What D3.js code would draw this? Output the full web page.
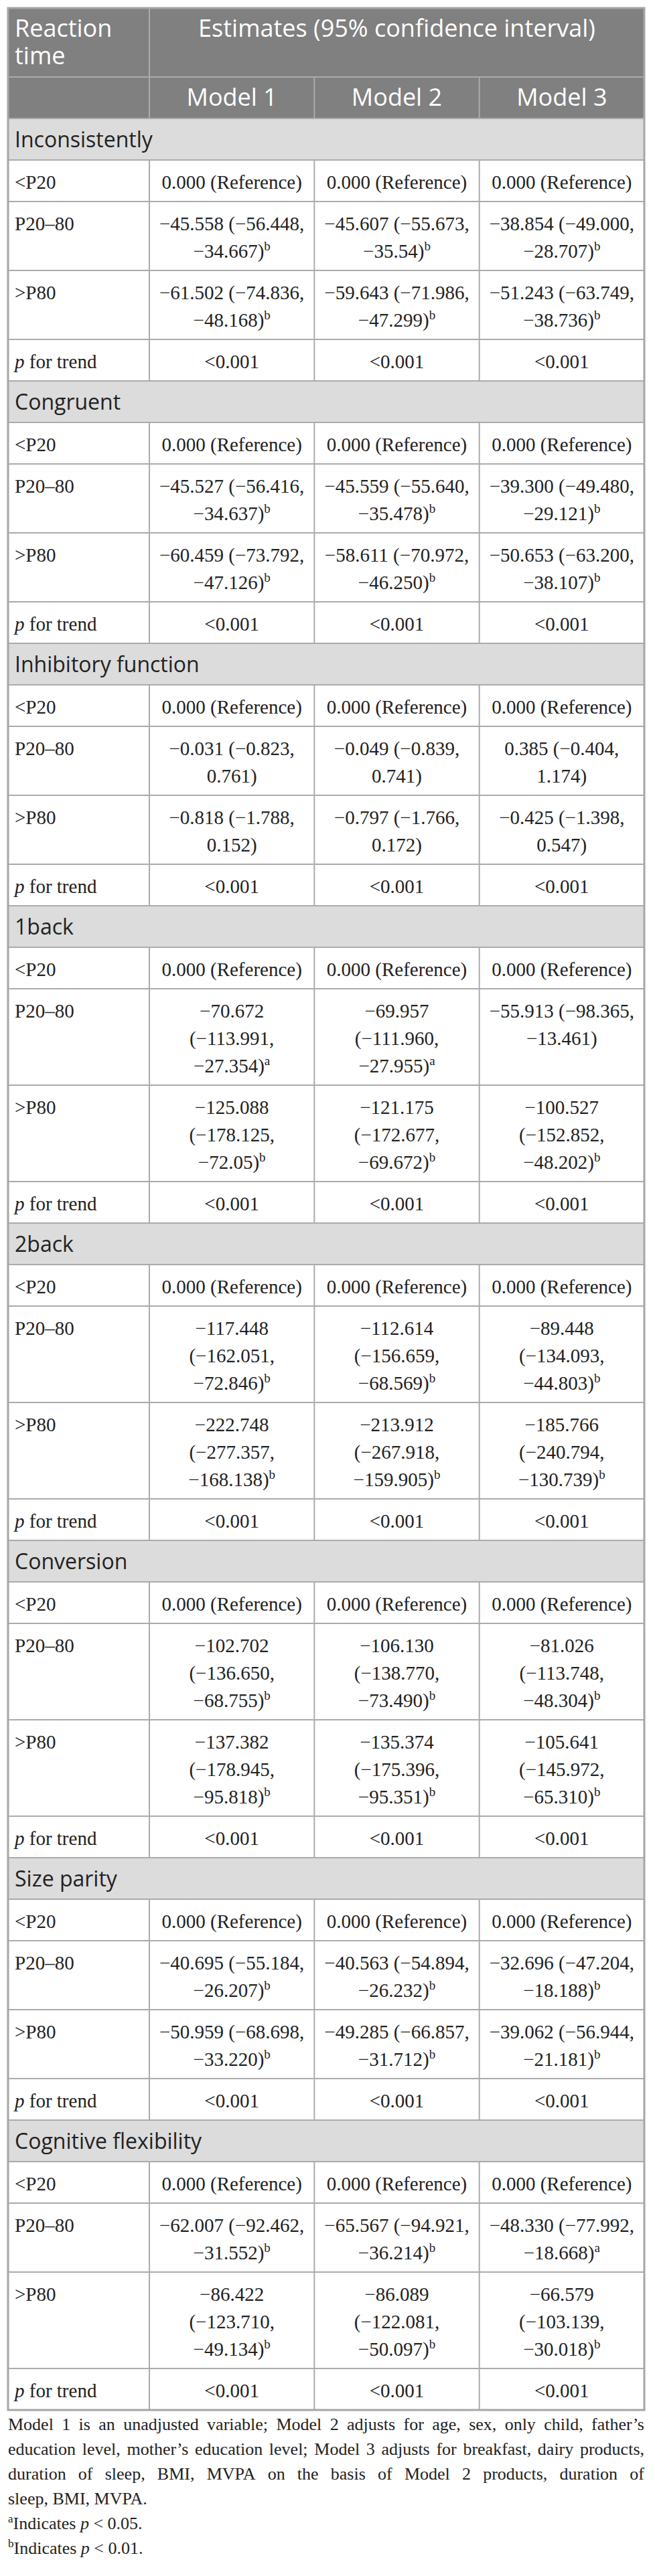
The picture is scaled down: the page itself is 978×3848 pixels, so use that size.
<!DOCTYPE html>
<html>
<head>
<meta charset="utf-8">
<script src="https://cdn.jsdelivr.net/npm/d3@7"></script>
<style>
  body { margin: 0; background: #fff; }
</style>
</head>
<body>
<div id="table"></div>
<script>
// table content
var groups = ["Inconsistently", "Congruent", "Inhibitory function", "1back", "2back",
  "Conversion", "Size parity", "Cognitive flexibility"];
var levels = ["<P20", "P20–80", ">P80", "p for trend"];
var models = ["Model 1", "Model 2", "Model 3"];
var refText = "0.000 (Reference)";
var trendText = "<0.001";

// P20–80 estimates (95% CI), one row per group, one entry per model
var mid = [
  ["−45.558 (−56.448, −34.667)", "−45.607 (−55.673, −35.54)", "−38.854 (−49.000, −28.707)"],
  ["−45.527 (−56.416, −34.637)", "−45.559 (−55.640, −35.478)", "−39.300 (−49.480, −29.121)"],
  ["−0.031 (−0.823, 0.761)", "−0.049 (−0.839, 0.741)", "0.385 (−0.404, 1.174)"],
  ["−70.672 (−113.991, −27.354)", "−69.957 (−111.960, −27.955)", "−55.913 (−98.365, −13.461)"],
  ["−117.448 (−162.051, −72.846)", "−112.614 (−156.659, −68.569)", "−89.448 (−134.093, −44.803)"],
  ["−102.702 (−136.650, −68.755)", "−106.130 (−138.770, −73.490)", "−81.026 (−113.748, −48.304)"],
  ["−40.695 (−55.184, −26.207)", "−40.563 (−54.894, −26.232)", "−32.696 (−47.204, −18.188)"],
  ["−62.007 (−92.462, −31.552)", "−65.567 (−94.921, −36.214)", "−48.330 (−77.992, −18.668)"]
];
var midSig = [
  ["b", "b", "b"], ["b", "b", "b"], ["", "", ""], ["a", "a", ""],
  ["b", "b", "b"], ["b", "b", "b"], ["b", "b", "b"], ["b", "b", "a"]
];

// >P80 estimates (95% CI)
var high = [
  ["−61.502 (−74.836, −48.168)", "−59.643 (−71.986, −47.299)", "−51.243 (−63.749, −38.736)"],
  ["−60.459 (−73.792, −47.126)", "−58.611 (−70.972, −46.250)", "−50.653 (−63.200, −38.107)"],
  ["−0.818 (−1.788, 0.152)", "−0.797 (−1.766, 0.172)", "−0.425 (−1.398, 0.547)"],
  ["−125.088 (−178.125, −72.05)", "−121.175 (−172.677, −69.672)", "−100.527 (−152.852, −48.202)"],
  ["−222.748 (−277.357, −168.138)", "−213.912 (−267.918, −159.905)", "−185.766 (−240.794, −130.739)"],
  ["−137.382 (−178.945, −95.818)", "−135.374 (−175.396, −95.351)", "−105.641 (−145.972, −65.310)"],
  ["−50.959 (−68.698, −33.220)", "−49.285 (−66.857, −31.712)", "−39.062 (−56.944, −21.181)"],
  ["−86.422 (−123.710, −49.134)", "−86.089 (−122.081, −50.097)", "−66.579 (−103.139, −30.018)"]
];
var highSig = [
  ["b", "b", "b"], ["b", "b", "b"], ["", "", ""], ["b", "b", "b"],
  ["b", "b", "b"], ["b", "b", "b"], ["b", "b", "b"], ["b", "b", "b"]
];

// footnote, as printed line by line
var noteLines = [
  "Model 1 is an unadjusted variable; Model 2 adjusts for age, sex, only child, father’s",
  "education level, mother’s education level; Model 3 adjusts for breakfast, dairy products,",
  "duration of sleep, BMI, MVPA on the basis of Model 2 products, duration of",
  "sleep, BMI, MVPA."
];
var sigNotes = [["a", "0.05"], ["b", "0.01"]];

// layout
var svgWidth = 978, svgHeight = 3848;
var tLeft = 12, tTop = 12, tRight = 962, labelW = 211;
var rowH = 62, lineH = 41, firstBase = 43, padX = 10;
var serif = "'Liberation Serif', 'Times New Roman', serif";
var sans = "'Open Sans', 'Noto Sans', sans-serif";
var bodySize = 29, supSize = 19, headSize = 36, groupSize = 32;
var lineColor = "#ababab", headFill = "#808080", groupFill = "#dcdcdc", ink = "#222";

var svg = d3.select("#table")
  .append("svg")
  .attr("width", svgWidth)
  .attr("height", svgHeight);

var x = d3.scaleBand()
  .domain(models)
  .range([tLeft + labelW, tRight]);

var probe = svg.append("text").attr("visibility", "hidden");
function textW(str, fam, size, italic) {
  probe.attr("font-family", fam).attr("font-size", size)
    .attr("font-style", italic ? "italic" : "normal").text(str);
  return probe.node().getComputedTextLength();
}

// greedy wrap; the superscript counts on the last token
function wrap(str, sup, maxW, fam, size) {
  var words = str.split(" ");
  var supW = sup ? textW(sup, fam, supSize) : 0;
  var lines = [], cur = words[0];
  for (var i = 1; i < words.length; i++) {
    var test = cur + " " + words[i];
    var w = textW(test, fam, size) + (i === words.length - 1 ? supW : 0);
    if (w <= maxW) cur = test;
    else { lines.push(cur); cur = words[i]; }
  }
  lines.push(cur);
  return lines;
}

var cellMax = x.bandwidth() - 2 * padX;

// build rows
var rows = [];
rows.push({ kind: "head1", label: wrap("Reaction time", "", labelW - 2 * padX, sans, headSize),
  span: "Estimates (95% confidence interval)" });
rows.push({ kind: "head2", cells: models });
groups.forEach(function(g, gi) {
  rows.push({ kind: "group", label: g });
  rows.push({ kind: "body", label: levels[0], cells: models.map(function() { return { lines: [refText], sup: "" }; }) });
  rows.push({ kind: "body", label: levels[1], cells: mid[gi].map(function(s, mi) {
    return { lines: wrap(s, midSig[gi][mi], cellMax, serif, bodySize), sup: midSig[gi][mi] };
  }) });
  rows.push({ kind: "body", label: levels[2], cells: high[gi].map(function(s, mi) {
    return { lines: wrap(s, highSig[gi][mi], cellMax, serif, bodySize), sup: highSig[gi][mi] };
  }) });
  rows.push({ kind: "body", label: levels[3], trend: true, cells: models.map(function() { return { lines: [trendText], sup: "" }; }) });
});

var yPos = tTop;
rows.forEach(function(r) {
  var n = 1;
  if (r.kind === "head1") n = r.label.length;
  if (r.kind === "body") n = d3.max(r.cells, function(c) { return c.lines.length; });
  r.y = yPos;
  r.h = rowH + (n - 1) * lineH;
  yPos += r.h;
});
var tableBottom = yPos;

// backgrounds
svg.selectAll("rect.bg")
  .data(rows.filter(function(r) { return r.kind !== "body"; }))
  .enter()
  .append("rect")
  .attr("x", tLeft)
  .attr("y", function(r) { return r.y; })
  .attr("width", tRight - tLeft)
  .attr("height", function(r) { return r.h; })
  .attr("fill", function(r) { return r.kind === "group" ? groupFill : headFill; });

// grid lines
var grid = svg.append("g").attr("stroke", lineColor).attr("stroke-width", 2);
rows.forEach(function(r) {
  grid.append("line")
    .attr("x1", tLeft).attr("x2", tRight)
    .attr("y1", r.y + r.h).attr("y2", r.y + r.h);
  if (r.kind === "group") return;
  var xs = r.kind === "head1" ? [x(models[0])] : models.map(function(m) { return x(m); });
  xs.forEach(function(xv) {
    grid.append("line")
      .attr("x1", xv).attr("x2", xv)
      .attr("y1", r.y).attr("y2", r.y + r.h);
  });
});
svg.append("rect")
  .attr("x", tLeft).attr("y", tTop)
  .attr("width", tRight - tLeft).attr("height", tableBottom - tTop)
  .attr("fill", "none")
  .attr("stroke", "#a6a6a6")
  .attr("stroke-width", 3);

// header text
var head1 = rows[0], head2 = rows[1];
var h1 = svg.append("text")
  .attr("font-family", sans).attr("font-size", headSize).attr("fill", "#fff");
head1.label.forEach(function(l, i) {
  h1.append("tspan").attr("x", tLeft + padX).attr("y", head1.y + firstBase + i * lineH).text(l);
});
svg.append("text")
  .attr("font-family", sans).attr("font-size", headSize).attr("fill", "#fff")
  .attr("text-anchor", "middle")
  .attr("x", (x(models[0]) + tRight) / 2)
  .attr("y", head1.y + firstBase)
  .text(head1.span);
svg.selectAll("text.model")
  .data(models)
  .enter()
  .append("text")
  .attr("font-family", sans).attr("font-size", headSize).attr("fill", "#fff")
  .attr("text-anchor", "middle")
  .attr("x", function(m) { return x(m) + x.bandwidth() / 2; })
  .attr("y", head2.y + firstBase)
  .text(function(m) { return m; });

// group headers
svg.selectAll("text.group")
  .data(rows.filter(function(r) { return r.kind === "group"; }))
  .enter()
  .append("text")
  .attr("font-family", sans).attr("font-size", groupSize).attr("fill", ink)
  .attr("x", tLeft + padX)
  .attr("y", function(r) { return r.y + firstBase; })
  .text(function(r) { return r.label; });

// body rows
rows.filter(function(r) { return r.kind === "body"; }).forEach(function(r) {
  var lab = svg.append("text")
    .attr("font-family", serif).attr("font-size", bodySize).attr("fill", ink)
    .attr("x", tLeft + padX).attr("y", r.y + firstBase);
  if (r.trend) {
    lab.append("tspan").attr("font-style", "italic").text("p");
    lab.append("tspan").text(" for trend");
  } else {
    lab.text(r.label);
  }
  r.cells.forEach(function(c, mi) {
    var cx = x(models[mi]) + x.bandwidth() / 2;
    var t = svg.append("text")
      .attr("font-family", serif).attr("font-size", bodySize).attr("fill", ink)
      .attr("text-anchor", "middle");
    c.lines.forEach(function(l, li) {
      t.append("tspan").attr("x", cx).attr("y", r.y + firstBase + li * lineH).text(l);
      if (li === c.lines.length - 1 && c.sup) {
        t.append("tspan").attr("font-size", supSize).attr("dy", -11).text(c.sup);
      }
    });
  });
});

// footnote, justified except the last line
var noteSize = 26, noteLine = 37, noteW = tRight - tLeft;
var noteY = tableBottom + 30;
var spaceW = textW("a a", serif, noteSize) - textW("aa", serif, noteSize);

noteLines.forEach(function(line, li) {
  var ws = line.split(" ");
  var t = svg.append("text")
    .attr("font-family", serif).attr("font-size", noteSize).attr("fill", ink);
  var by = noteY + li * noteLine;
  var last = li === noteLines.length - 1;
  var widths = ws.map(function(w) { return textW(w, serif, noteSize); });
  var gap = last ? spaceW : (noteW - d3.sum(widths)) / (ws.length - 1);
  var xp = tLeft;
  ws.forEach(function(w, wi) {
    t.append("tspan").attr("x", xp).attr("y", by).text(w);
    xp += widths[wi] + gap;
  });
});

sigNotes.forEach(function(s, si) {
  var t = svg.append("text")
    .attr("font-family", serif).attr("font-size", noteSize).attr("fill", ink)
    .attr("x", tLeft)
    .attr("y", noteY + (noteLines.length + si) * noteLine);
  t.append("tspan").attr("font-size", 17).attr("dy", -10).text(s[0]);
  t.append("tspan").attr("dy", 10).text("Indicates ");
  t.append("tspan").attr("font-style", "italic").text("p");
  t.append("tspan").text(" < " + s[1] + ".");
});

probe.remove();
</script>
</body>
</html>
